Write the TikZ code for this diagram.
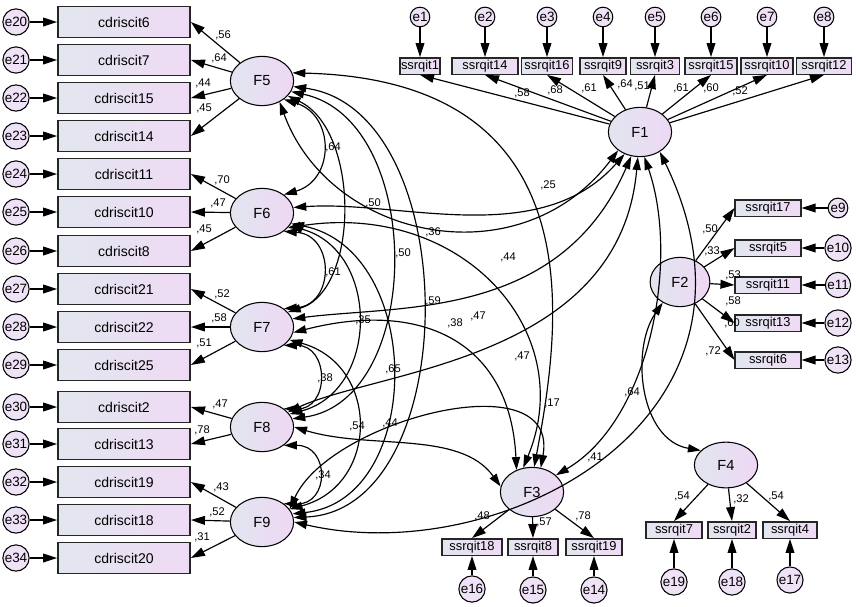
\documentclass[tikz,border=0pt]{standalone}
\usepackage{fontspec}
\setmainfont{Liberation Sans}
\usetikzlibrary{arrows.meta,shapes.geometric}
\definecolor{boxl}{RGB}{226,231,239}
\definecolor{boxr}{RGB}{239,218,245}
\definecolor{latl}{RGB}{226,229,240}
\definecolor{latr}{RGB}{238,216,244}
\definecolor{errc}{RGB}{240,226,246}
\tikzset{
  obs/.style={draw=black!85, line width=1.2pt, left color=boxl, right color=boxr, inner sep=1pt},
  bigobs/.style={obs, minimum width=113pt, minimum height=26pt, font=\fontsize{12}{14}\selectfont},
  smallobs/.style={obs, minimum height=14pt, font=\fontsize{11}{12}\selectfont},
  lat/.style={ellipse, draw, line width=0.9pt, left color=latl, right color=latr, minimum width=54pt, minimum height=42pt, inner sep=0pt, font=\fontsize{12.5}{14}\selectfont},
  err/.style={circle, draw, line width=0.9pt, fill=errc, inner sep=0.6pt, font=\fontsize{11.5}{13}\selectfont},
  arr/.style={-{Triangle[length=12pt,width=7.5pt]}, line width=1pt},
  cov/.style={{Triangle[length=11pt,width=7pt]}-{Triangle[length=11pt,width=7pt]}, line width=1pt},
  lbl/.style={font=\fontsize{9.5}{11}\selectfont, inner sep=0pt}
}
\begin{document}
\begin{tikzpicture}[x=0.03cm,y=-0.03cm]
\useasboundingbox (0,0) rectangle (856,606);
% latent factors
\node[lat] (F1) at (640,132) {F1};
\node[lat, minimum width=51pt] (F2) at (680,282) {F2};
\node[lat] (F3) at (532,492) {F3};
\node[lat, minimum height=39pt] (F4) at (726,465) {F4};
\node[lat] (F5) at (262,81) {F5};
\node[lat] (F6) at (262,213) {F6};
\node[lat] (F7) at (262,327) {F7};
\node[lat] (F8) at (262,427) {F8};
\node[lat] (F9) at (262,522) {F9};

% left column: cdriscit items
\foreach \it/\yy/\ee in {6/22/20, 7/60/21, 15/98/22, 14/136/23, 11/174/24, 10/212/25, 8/251/26,
    21/289/27, 22/327/28, 25/365/29, 2/407/30, 13/444/31, 19/482/32, 18/520/33, 20/558/34} {
  \node[bigobs] (c\it) at (124,\yy) {cdriscit\it};
  \node[err] (e\ee) at (16,\yy) {e\ee};
  \draw[arr] (e\ee) -- (c\it);
}
\foreach \f/\it/\v/\lx/\ly in {5/6/56/223/35, 5/7/64/219/58, 5/15/44/203/83, 5/14/45/204/108,
    6/11/70/222/180, 6/10/47/218/203, 6/8/45/204/229,
    7/21/52/222/294, 7/22/58/219/318, 7/25/51/204/343,
    8/2/47/220/404, 8/13/78/202/430,
    9/19/43/221/487, 9/18/52/217/512, 9/20/31/202/537} {
  \draw[arr] (F\f) -- (c\it.east);
  \node[lbl] (l\f-\it) at (\lx,\ly) {,\v};
}

% top row: F1 items
\foreach \it/\xx/\ww/\ee/\v/\lx/\ly in {1/420/37/1/58/522/93, 14/485/66/2/68/555/90, 16/547/51/3/61/589/88,
    9/603/46/4/64/625/84, 3/655/49/5/51/642/86, 15/711/52/6/61/681/88,
    10/767/52/7/60/711/88, 12/824/55/8/52/740/91} {
  \node[smallobs, minimum width=\ww*0.85pt] (s\it) at (\xx,66) {ssrqit\it};
  \node[err] (e\ee) at (\xx,17) {e\ee};
  \draw[arr] (e\ee) -- (s\it);
  \draw[arr] (F1) -- (s\it.south);
  \node[lbl] (l1-\it) at (\lx,\ly) {,\v};
}

% right column: F2 items
\foreach \it/\yy/\ee/\v/\lx/\ly in {17/208/9/50/710/229, 5/248/10/33/712/251, 11/285/11/53/733/275,
    13/323/12/58/733/301, 6/360/13/60/732/323} {
  \node[smallobs, minimum width=56pt] (s\it) at (768,\yy) {ssrqit\it};
  \node[err] (e\ee) at (838,\yy) {e\ee};
  \draw[arr] (e\ee) -- (s\it);
  \draw[arr] (F2) -- (s\it.west);
  \node[lbl] (l2-\it) at (\lx,\ly) {,\v};
}

% bottom: F3 and F4 items
\foreach \f/\it/\xx/\ww/\yb/\ee/\ye/\v/\lx/\ly in {3/18/472/60/547/16/589/48/482/516, 3/8/533/50/547/15/590/57/544/522,
    3/19/594/56/547/14/590/78/583/516, 4/7/674/56/530/19/582/54/682/496,
    4/2/732/48/530/18/582/32/741/499, 4/4/790/54/530/17/580/54/776/496} {
  \node[smallobs, minimum width=\ww*0.85pt] (s\it) at (\xx,\yb) {ssrqit\it};
  \node[err] (e\ee) at (\xx,\ye) {e\ee};
  \draw[arr] (e\ee) -- (s\it);
  \draw[arr] (F\f) -- (s\it.north);
  \node[lbl] (l\f-\it) at (\lx,\ly) {,\v};
}

% covariances among F5 ... F9
\draw[cov] (F5.-40) .. controls (335,115) and (335,180) .. (F6.40);
\draw[cov] (F6.-40) .. controls (335,235) and (335,305) .. (F7.40);
\draw[cov] (F7.-40) .. controls (330,345) and (330,410) .. (F8.40);
\draw[cov] (F8.-40) .. controls (330,445) and (330,505) .. (F9.40);
\draw[cov] (F5.-30) .. controls (360,130) and (360,290) .. (F7.30);
\draw[cov] (F6.-25) .. controls (380,250) and (380,390) .. (F8.25);
\draw[cov] (F7.-25) .. controls (380,365) and (380,485) .. (F9.25);
\draw[cov] (F5.-20) .. controls (425,120) and (425,400) .. (F8.15);
\draw[cov] (F6.-20) .. controls (425,250) and (425,500) .. (F9.15);
\draw[cov] (F5.-10) .. controls (465,110) and (465,510) .. (F9.8);
\node[lbl] (k56) at (333,147) {,64};
\node[lbl] (k67) at (333,272) {,61};
\node[lbl] (k78) at (325,378) {,38};
\node[lbl] (k89) at (323,475) {,34};
\node[lbl] (k68) at (363,320) {,35};
\node[lbl] (k79) at (357,426) {,54};
\node[lbl] (k58) at (403,253) {,50};
\node[lbl] (k69) at (393,369) {,65};
\node[lbl] (k59) at (433,301) {,59};

% covariances with F1, F3 and F4
\draw[cov] (F5.15) .. controls (600,80) and (560,330) .. (F3.85);
\draw[cov] (F5.-50) .. controls (330,240) and (520,280) .. (F1.-140);
\draw[cov] (F6.10) .. controls (400,200) and (540,250) .. (F1.-125);
\draw[cov] (F6.-30) .. controls (460,200) and (580,330) .. (F3.110);
\draw[cov] (F7.15) .. controls (400,305) and (560,320) .. (F1.-110);
\draw[cov] (F7.-10) .. controls (420,300) and (510,340) .. (F3.125);
\draw[cov] (F8.30) .. controls (380,370) and (620,360) .. (F1.-95);
\draw[cov] (F8.0) .. controls (370,450) and (460,430) .. (F3.170);
\draw[cov] (F9.0) .. controls (500,570) and (790,420) .. (F1.-45);
\draw[cov] (F9.25) .. controls (330,420) and (560,360) .. (F3.70);
\draw[cov] (F1.-80) .. controls (680,260) and (650,420) .. (F3.35);
\draw[cov] (F2.-130) .. controls (630,350) and (640,440) .. (F4.150);
\node[lbl] (k53) at (548,185) {,25};
\node[lbl] (k51) at (433,232) {,36};
\node[lbl] (k61) at (373,203) {,50};
\node[lbl] (k63) at (508,257) {,44};
\node[lbl] (k71) at (478,316) {,47};
\node[lbl] (k73) at (455,323) {,38};
\node[lbl] (k81) at (522,356) {,47};
\node[lbl] (k83) at (390,423) {,44};
\node[lbl] (k91) at (713,351) {,72};
\node[lbl] (k93) at (552,403) {,17};
\node[lbl] (k13) at (595,457) {,41};
\node[lbl] (k24) at (632,392) {,64};
\end{tikzpicture}
\end{document}
